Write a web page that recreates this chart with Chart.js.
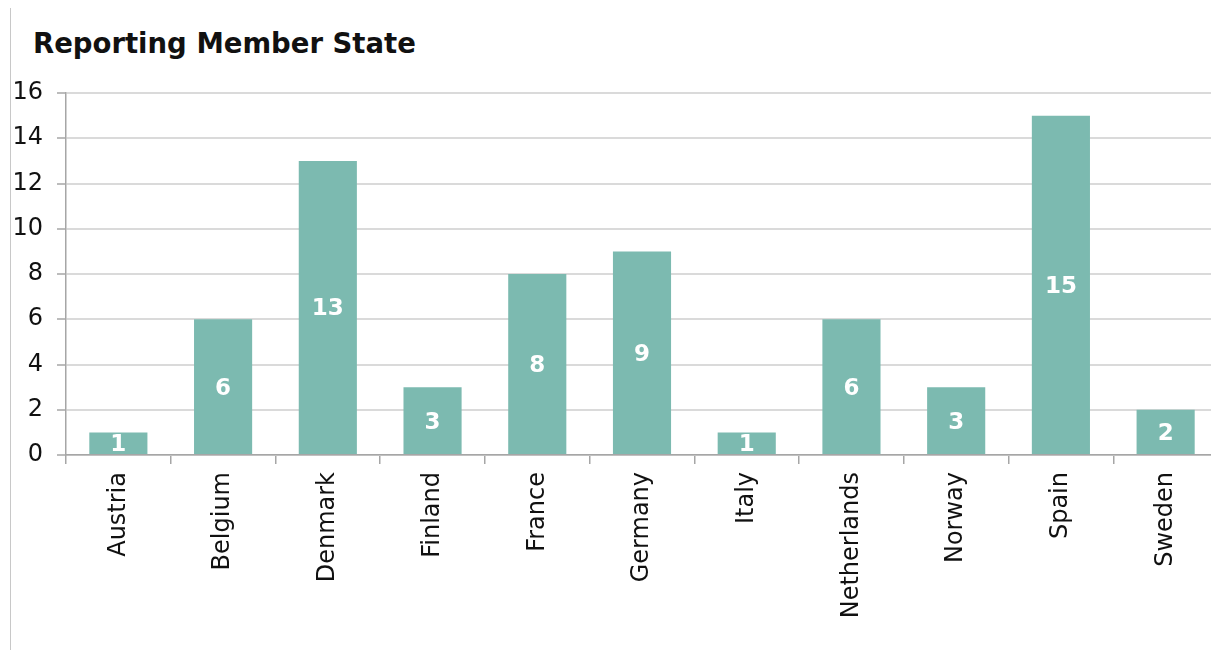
<!DOCTYPE html>
<html>
<head>
<meta charset="utf-8">
<script src="https://cdn.jsdelivr.net/npm/chart.js@4/dist/chart.umd.min.js"></script>
<style>
  html, body { margin: 0; padding: 0; background: #fff; overflow: hidden; }
  #wrap { position: relative; width: 1232px; height: 651px; }
  #frame { position: absolute; left: 10px; top: 8px; width: 0; height: 642px; border-left: 1px solid #c8c8c8; }
  #title {
    position: absolute; left: 33px; top: 27px;
    font-family: "DejaVu Sans", Verdana, sans-serif; font-weight: bold; font-size: 27.5px;
    color: #111;
  }
  canvas { position: absolute; left: 0; top: 0; }
</style>
</head>
<body>
<div id="wrap">
  <div id="frame"></div>
  <div id="title">Reporting Member State</div>
  <canvas id="member-chart" width="1232" height="651"></canvas>
</div>
<script>
  const countries = ['Austria', 'Belgium', 'Denmark', 'Finland', 'France', 'Germany', 'Italy', 'Netherlands', 'Norway', 'Spain', 'Sweden'];
  const reports = [1, 6, 13, 3, 8, 9, 1, 6, 3, 15, 2];
  const yMax = 16;
  const yStep = 2;

  const barColor = '#7cbab0';
  const axisColor = '#a6a6a6';
  const fontFamily = '"DejaVu Sans", Verdana, sans-serif';

  // white value labels in the middle of each bar
  const barLabels = {
    id: 'barLabels',
    afterDatasetsDraw: function (chart) {
      const ctx = chart.ctx;
      const meta = chart.getDatasetMeta(0);
      ctx.save();
      ctx.fillStyle = '#ffffff';
      ctx.font = 'bold 23px ' + fontFamily;
      ctx.textAlign = 'center';
      ctx.textBaseline = 'middle';
      meta.data.forEach(function (bar, i) {
        ctx.fillText(String(chart.data.datasets[0].data[i]), bar.x, (bar.y + bar.base) / 2 + 2);
      });
      ctx.restore();
    }
  };

  new Chart(document.getElementById('member-chart'), {
    type: 'bar',
    data: {
      labels: countries,
      datasets: [{
        label: 'Reporting Member State',
        data: reports,
        backgroundColor: barColor,
        hoverBackgroundColor: barColor,
        borderWidth: 0,
        barPercentage: 0.555,
        categoryPercentage: 1.0
      }]
    },
    options: {
      responsive: false,
      animation: false,
      layout: {
        padding: { left: 0, top: 93, right: 14, bottom: 0 }
      },
      scales: {
        x: {
          grid: {
            display: true,
            drawOnChartArea: false,
            drawTicks: true,
            tickLength: 9,
            color: axisColor,
            lineWidth: 1.5
          },
          border: { color: axisColor, width: 1.5 },
          ticks: {
            minRotation: 90,
            maxRotation: 90,
            padding: 8,
            color: '#111',
            font: { family: fontFamily, size: 24 }
          },
          afterFit: function (scale) { scale.height = 196; }
        },
        y: {
          min: 0,
          max: yMax,
          grid: {
            color: '#dadada',
            lineWidth: 2,
            tickColor: axisColor,
            tickLength: 9,
            tickWidth: 1.5
          },
          border: { color: axisColor, width: 1.5 },
          ticks: {
            stepSize: yStep,
            padding: 14,
            color: '#111',
            font: { family: fontFamily, size: 24 }
          },
          afterFit: function (scale) { scale.width = 66; }
        }
      },
      plugins: {
        legend: { display: false },
        title: { display: false },
        tooltip: { enabled: false }
      }
    },
    plugins: [barLabels]
  });
</script>
</body>
</html>
